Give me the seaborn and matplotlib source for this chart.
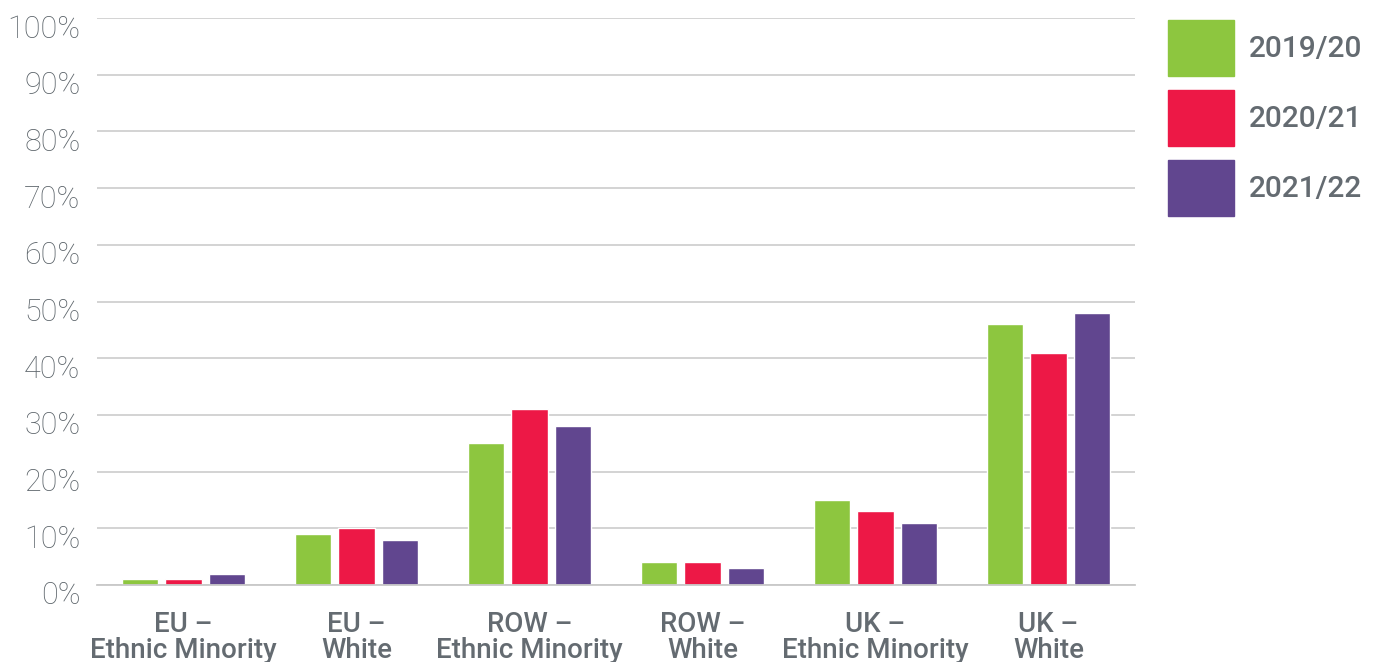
import pandas as pd
import matplotlib
matplotlib.use('Agg')
import matplotlib.pyplot as plt
import matplotlib.patches as mpatches
import matplotlib.transforms as mtransforms
import seaborn as sns

# data
groups = ['EU –\nEthnic Minority', 'EU –\nWhite', 'ROW –\nEthnic Minority',
          'ROW –\nWhite', 'UK –\nEthnic Minority', 'UK –\nWhite']
years = ['2019/20', '2020/21', '2021/22']
v_2019 = [1, 9, 25, 4, 15, 46]
v_2020 = [1, 10, 31, 4, 13, 41]
v_2021 = [2, 8, 28, 3, 11, 48]
colors = ['#8DC63F', '#ED1846', '#61468F']
y_ticks = list(range(0, 101, 10))

rows = []
for year, vals in zip(years, [v_2019, v_2020, v_2021]):
    for g, v in zip(groups, vals):
        rows.append({'group': g, 'year': year, 'value': v})
df = pd.DataFrame(rows)

sns.set_style('white')
plt.rcParams['font.family'] = ['Roboto', 'DejaVu Sans']
text_grey = '#646b71'

fig = plt.figure(figsize=(13.8, 6.62), dpi=100)
ax = fig.add_axes([97 / 1380, 1 - 585 / 662, (1135 - 97) / 1380, (585 - 18) / 662])

sns.barplot(data=df, x='group', y='value', hue='year', palette=colors,
            width=0.754, gap=0.15, ax=ax, legend=False, saturation=1)

ax.set_ylim(0, 100)
ax.set_yticks(y_ticks)
ax.set_yticklabels([f'{t}%' for t in y_ticks], fontsize=22, fontweight='light', color='#5c646a')
ax.set_xticks(range(len(groups)))
ax.set_xticklabels(groups, fontsize=20, fontweight='medium', color=text_grey, linespacing=0.95)
ax.set_xlim(-0.5, len(groups) - 0.5)
ax.tick_params(axis='y', length=0, pad=12)
ax.tick_params(axis='x', length=0, pad=18.5)
ax.set_xlabel('')
ax.set_ylabel('')

# y labels sit a little below their gridlines in the original
shift = mtransforms.ScaledTranslation(0, -8 / 100, fig.dpi_scale_trans)
for lab in ax.get_yticklabels():
    lab.set_transform(lab.get_transform() + shift)

ax.grid(axis='y', color='#c8c8c8', linewidth=1.1)
ax.set_axisbelow(True)
for s in ['top', 'right', 'left']:
    ax.spines[s].set_visible(False)
ax.spines['bottom'].set_color('#c8c8c8')
ax.spines['bottom'].set_linewidth(1.3)

handles = [mpatches.Patch(color=c, label=y) for c, y in zip(colors, years)]
leg = fig.legend(handles=handles, loc='upper left', bbox_to_anchor=(1168 / 1380, 1 - 20 / 662),
                 frameon=False, borderpad=0, borderaxespad=0, handlelength=2.2,
                 handleheight=2.5, labelspacing=0.47, handletextpad=0.5,
                 prop={'size': 21.5, 'weight': 'medium'})
for t in leg.get_texts():
    t.set_color(text_grey)

fig.savefig('out.png', dpi=100)
